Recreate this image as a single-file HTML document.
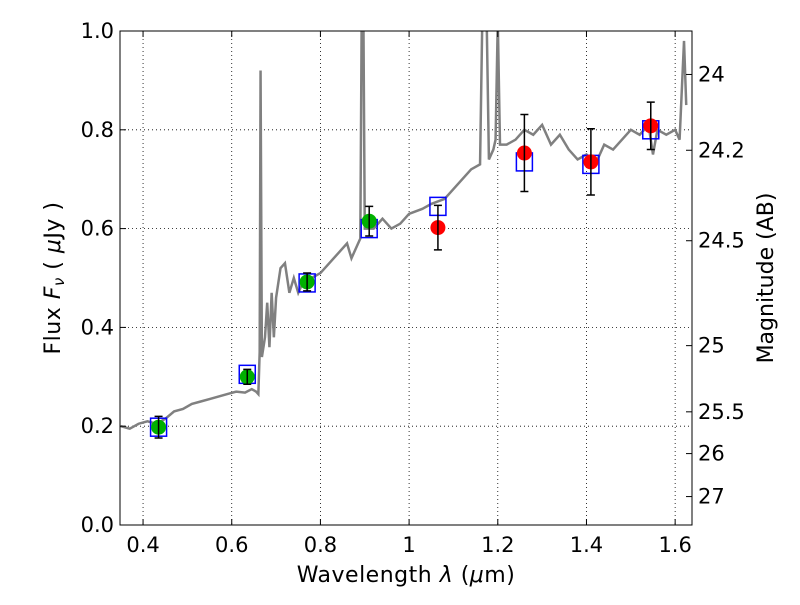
<!DOCTYPE html>
<html><head><meta charset="utf-8"><style>
body{margin:0;background:#fff;font-family:"Liberation Sans","DejaVu Sans",sans-serif}
svg text{font-family:"DejaVu Sans","Liberation Sans",sans-serif;fill:#000}
</style></head><body>
<svg id="chart" width="800" height="600" xmlns="http://www.w3.org/2000/svg">
<rect width="800" height="600" fill="#fff"/>
<g id="grid"></g>
<g id="plot"></g>
<rect x="120" y="31" width="572" height="494" fill="none" stroke="#000" stroke-width="1"/>
<g id="axes"></g>
<text x="406" y="582" font-size="22" letter-spacing="0.5" text-anchor="middle">Wavelength  <tspan font-style="italic">λ</tspan> (<tspan font-style="italic">μ</tspan>m)</text>
<text transform="translate(60,278) rotate(-90)" font-size="22" letter-spacing="0.5" text-anchor="middle">Flux  <tspan font-style="italic">F</tspan><tspan font-style="italic" font-size="15" dy="4">ν</tspan><tspan dy="-4">  (  </tspan><tspan font-style="italic">μ</tspan>Jy )</text>
<text transform="translate(773,278) rotate(-90)" font-size="22" text-anchor="middle">Magnitude (AB)</text>
</svg>
<script>
const specWave=[0.35,0.37,0.39,0.41,0.43,0.45,0.47,0.49,0.51,0.53,0.55,0.57,0.59,0.61,0.63,0.645,0.655,0.66,0.663,0.665,0.668,0.675,0.68,0.685,0.69,0.695,0.7,0.71,0.72,0.73,0.74,0.75,0.76,0.78,0.8,0.82,0.84,0.86,0.87,0.88,0.89,0.893,0.897,0.9,0.92,0.94,0.96,0.98,1.0,1.03,1.05,1.08,1.1,1.12,1.14,1.16,1.165,1.175,1.18,1.19,1.195,1.2,1.205,1.22,1.24,1.26,1.28,1.3,1.32,1.34,1.36,1.38,1.4,1.42,1.44,1.46,1.48,1.5,1.52,1.54,1.55,1.56,1.58,1.6,1.61,1.62,1.625];
const specFlux=[0.2,0.195,0.205,0.21,0.205,0.215,0.23,0.235,0.245,0.25,0.255,0.26,0.265,0.27,0.268,0.275,0.27,0.265,0.35,0.92,0.34,0.38,0.45,0.36,0.47,0.38,0.46,0.52,0.53,0.47,0.5,0.47,0.49,0.5,0.51,0.53,0.55,0.57,0.54,0.56,0.58,1.02,1.02,0.6,0.6,0.62,0.6,0.61,0.63,0.64,0.65,0.66,0.68,0.7,0.72,0.73,1.02,1.02,0.74,0.76,0.78,1.02,0.77,0.77,0.78,0.8,0.79,0.81,0.77,0.79,0.76,0.74,0.75,0.73,0.77,0.76,0.78,0.8,0.79,0.81,0.75,0.8,0.79,0.8,0.78,0.98,0.85];
const obsWave=[0.435,0.635,0.77,0.91,1.065,1.26,1.41,1.545];
const obsFlux=[0.198,0.30,0.492,0.615,0.602,0.753,0.735,0.808];
const obsErr=[0.022,0.015,0.018,0.03,0.045,0.078,0.067,0.048];
const obsColor=["#00b000","#00b000","#00b000","#00b000","#ff0000","#ff0000","#ff0000","#ff0000"];
const modelFlux=[0.198,0.305,0.49,0.60,0.645,0.735,0.73,0.80];
const xTicks=[0.4,0.6,0.8,1.0,1.2,1.4,1.6];
const xTickLabels=["0.4","0.6","0.8","1","1.2","1.4","1.6"];
const yTicks=[0,0.2,0.4,0.6,0.8,1.0];
const yTickLabels=["0.0","0.2","0.4","0.6","0.8","1.0"];
const magTicks=[24,24.2,24.5,25,25.5,26,27];
const magTickLabels=["24","24.2","24.5","25","25.5","26","27"];
const X0=120,X1=692,Y0=525,Y1=31,xmin=0.348,xmax=1.638,ymin=0,ymax=1;
const sx=v=>X0+(v-xmin)/(xmax-xmin)*(X1-X0);
const sy=v=>Y0-(v-ymin)/(ymax-ymin)*(Y0-Y1);
const magToFlux=m=>Math.pow(10,(23.9-m)/2.5);
const NS="http://www.w3.org/2000/svg";
function mk(tag,attrs,parent){const e=document.createElementNS(NS,tag);for(const k in attrs)e.setAttribute(k,attrs[k]);parent.appendChild(e);return e;}
const grid=document.getElementById('grid'),plot=document.getElementById('plot'),axes=document.getElementById('axes');
xTicks.forEach((t,i)=>{const x=sx(t);
 const g=mk('line',{x1:x,x2:x,y1:Y1,y2:Y0,stroke:'#000','stroke-dasharray':'1,3','stroke-width':0.8},grid);
 
 
 mk('line',{x1:x,x2:x,y1:Y0,y2:Y0-6,stroke:'#000'},axes);
 mk('line',{x1:x,x2:x,y1:Y1,y2:Y1+6,stroke:'#000'},axes);
 const tx=mk('text',{x:x,y:Y0+27,'font-size':21,'text-anchor':'middle'},axes);tx.textContent=xTickLabels[i];
 
 
});
yTicks.forEach((t,i)=>{const y=sy(t);
 const g=mk('line',{x1:X0,x2:X1,y1:y,y2:y,stroke:'#000','stroke-dasharray':'1,3','stroke-width':0.8},grid);
 
 
 mk('line',{x1:X0,x2:X0+6,y1:y,y2:y,stroke:'#000'},axes);
 const tx=mk('text',{x:X0-6,y:y+7,'font-size':21,'text-anchor':'end'},axes);tx.textContent=yTickLabels[i];
 
 
});
magTicks.forEach((m,i)=>{const y=sy(magToFlux(m));
 mk('line',{x1:X1,x2:X1-6,y1:y,y2:y,stroke:'#000'},axes);
 const tx=mk('text',{x:X1+6,y:y+7,'font-size':21},axes);tx.textContent=magTickLabels[i];
 
 
});
const clip=mk('clipPath',{id:'c'},plot);mk('rect',{x:X0,y:Y1,width:X1-X0,height:Y0-Y1},clip);
const sp=mk('polyline',{points:specWave.map((w,i)=>sx(w)+','+sy(specFlux[i])).join(' '),fill:'none',stroke:'#808080','stroke-width':2.5,'clip-path':'url(#c)'},plot);


obsWave.forEach((w,i)=>{const x=sx(w),y=sy(modelFlux[i]);
 const r=mk('rect',{x:x-8,y:y-9,width:16,height:18,fill:'none',stroke:'#0000ff','stroke-width':1.5},plot);
 
 
});
obsWave.forEach((w,i)=>{const x=sx(w),y=sy(obsFlux[i]);
 const yt=sy(obsFlux[i]+obsErr[i]),yb=sy(obsFlux[i]-obsErr[i]);
 const c=mk('circle',{cx:x,cy:y,r:7.5,fill:obsColor[i]},plot);
 
 
 const eb=mk('path',{d:`M${x},${yt}V${yb}M${x-4},${yt}H${x+4}M${x-4},${yb}H${x+4}`,stroke:'#000','stroke-width':1.5,fill:'none'},plot);
 
 
});
</script>
</body></html>
